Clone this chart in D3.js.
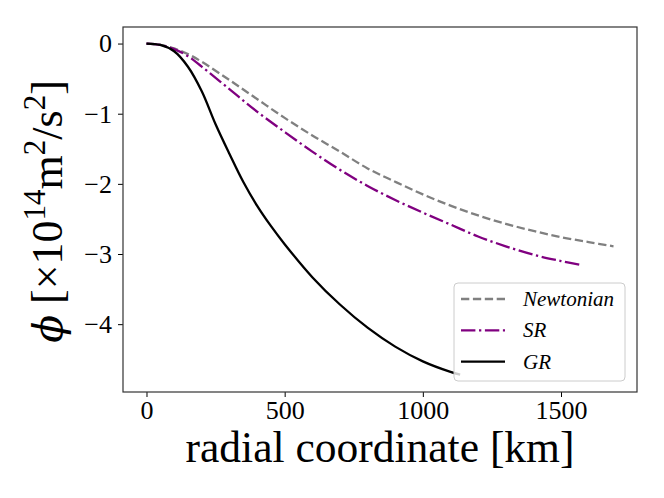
<!DOCTYPE html>
<html>
<head>
<meta charset="utf-8">
<script src="https://cdn.jsdelivr.net/npm/d3@7"></script>
<style>
  body { margin: 0; background: #fff; }
  text { font-family: "Liberation Serif", "Times New Roman", serif; }
</style>
</head>
<body>
<div id="myChart"></div>
<script>
// values (r in km, phi in 1e14 m^2/s^2)
let newtonR   = [0, 50, 100, 150, 200, 300, 400, 500, 600, 700, 800, 900, 1000, 1100, 1200, 1300, 1400, 1500, 1600, 1690];
let newtonPhi = [0, -0.02, -0.07, -0.15, -0.26, -0.52, -0.79, -1.06, -1.31, -1.54, -1.78, -1.97, -2.15, -2.31, -2.45, -2.57, -2.67, -2.76, -2.83, -2.89];

let srR   = [0, 50, 100, 150, 200, 300, 400, 500, 600, 700, 800, 900, 1000, 1100, 1200, 1300, 1400, 1500, 1575];
let srPhi = [0, -0.02, -0.08, -0.18, -0.33, -0.65, -0.97, -1.26, -1.54, -1.80, -2.03, -2.23, -2.41, -2.58, -2.75, -2.89, -3.01, -3.10, -3.16];

let grR   = [0, 50, 100, 150, 200, 250, 300, 350, 400, 450, 500, 600, 700, 800, 900, 1000, 1100, 1135];
let grPhi = [0, -0.02, -0.11, -0.33, -0.68, -1.15, -1.57, -1.97, -2.31, -2.60, -2.86, -3.33, -3.72, -4.05, -4.32, -4.53, -4.68, -4.72];

let xTicks = [0, 500, 1000, 1500];
let yTicks = [0, -1, -2, -3, -4];
let seriesNames = ["Newtonian", "SR", "GR"];

// set the dimensions and margins of the graph
let margin = {top: 27, right: 27, bottom: 106, left: 123},
    width = 664 - margin.left - margin.right,
    height = 498 - margin.top - margin.bottom;

let svg = d3.select("#myChart")
    .append("svg")
        .attr("width", 664)
        .attr("height", 498)
    .append("g")
        .attr("transform", "translate(" + margin.left + "," + margin.top + ")");

let x = d3.scaleLinear()
    .domain([-85, 1775])
    .range([0, width]);

let y = d3.scaleLinear()
    .domain([-4.967, 0.236])
    .range([height, 0]);

// X axis
let xAxis = svg.append("g")
    .attr("transform", "translate(0," + height + ")")
    .call(d3.axisBottom(x).tickValues(xTicks).tickSize(5).tickPadding(4).tickFormat(d3.format("d")));
xAxis.selectAll("text").style("font-size", "26px").attr("fill", "#000")
    .style("font-family", '"Liberation Serif", serif');

// Y axis
let yAxis = svg.append("g")
    .call(d3.axisLeft(y).tickValues(yTicks).tickSize(5).tickPadding(6)
        .tickFormat(d => d < 0 ? "\u2212" + Math.abs(d) : d));
yAxis.selectAll("text").style("font-size", "26px").attr("fill", "#000")
    .style("font-family", '"Liberation Serif", serif');

[xAxis, yAxis].forEach(a => {
    a.select(".domain").remove();
    a.selectAll("line").attr("stroke", "#000").attr("stroke-width", 1);
});

// frame
svg.append("rect")
    .attr("width", width)
    .attr("height", height)
    .attr("fill", "none")
    .attr("stroke", "#333")
    .attr("stroke-width", 1.2);

// curves
let series = [
    {name: seriesNames[0], r: newtonR, phi: newtonPhi, color: "#808080", dash: "8.3,3.6"},
    {name: seriesNames[1], r: srR, phi: srPhi, color: "#800080", dash: "14.4,3.6,2.3,3.6"},
    {name: seriesNames[2], r: grR, phi: grPhi, color: "#000000", dash: null}
];

let line = d3.line()
    .x(d => x(d[0]))
    .y(d => y(d[1]))
    .curve(d3.curveCatmullRom.alpha(0.5));

series.forEach(s => {
    svg.append("path")
        .datum(d3.zip(s.r, s.phi))
        .attr("fill", "none")
        .attr("stroke", s.color)
        .attr("stroke-width", 2.3)
        .attr("stroke-dasharray", s.dash)
        .attr("d", line);
});

// legend
let lg = svg.append("g").attr("transform", "translate(331,256)");
lg.append("rect")
    .attr("width", 171)
    .attr("height", 98)
    .attr("rx", 4)
    .attr("fill", "#fff")
    .attr("fill-opacity", 0.8)
    .attr("stroke", "#ccc")
    .attr("stroke-width", 1);

series.forEach((s, i) => {
    let yy = 16 + i * 31.3;
    lg.append("line")
        .attr("x1", 7).attr("x2", 51)
        .attr("y1", yy).attr("y2", yy)
        .attr("stroke", s.color)
        .attr("stroke-width", 2.3)
        .attr("stroke-dasharray", s.dash);
    lg.append("text")
        .attr("x", 69)
        .attr("y", yy + 7)
        .style("font-size", "21px")
        .style("font-style", "italic")
        .text(s.name);
});

// axis labels
svg.append("text")
    .attr("x", width / 2)
    .attr("y", height + 70)
    .attr("text-anchor", "middle")
    .style("font-size", "43.5px")
    .text("radial coordinate [km]");

let yl = svg.append("text")
    .attr("transform", "translate(-61," + (height / 2 + 2) + ") rotate(-90)")
    .attr("text-anchor", "middle")
    .style("font-size", "44px");
yl.append("tspan").style("font-style", "italic").style("font-family", '"DejaVu Serif", serif').style("font-size", "41px").text("\u03d5");
yl.append("tspan").text(" [\u00d710");
yl.append("tspan").attr("dy", -17).style("font-size", "31px").text("14");
yl.append("tspan").attr("dy", 17).text("m");
yl.append("tspan").attr("dy", -17).style("font-size", "31px").text("2");
yl.append("tspan").attr("dy", 17).text("/s");
yl.append("tspan").attr("dy", -17).style("font-size", "31px").text("2");
yl.append("tspan").attr("dy", 17).text("]");
</script>
</body>
</html>
